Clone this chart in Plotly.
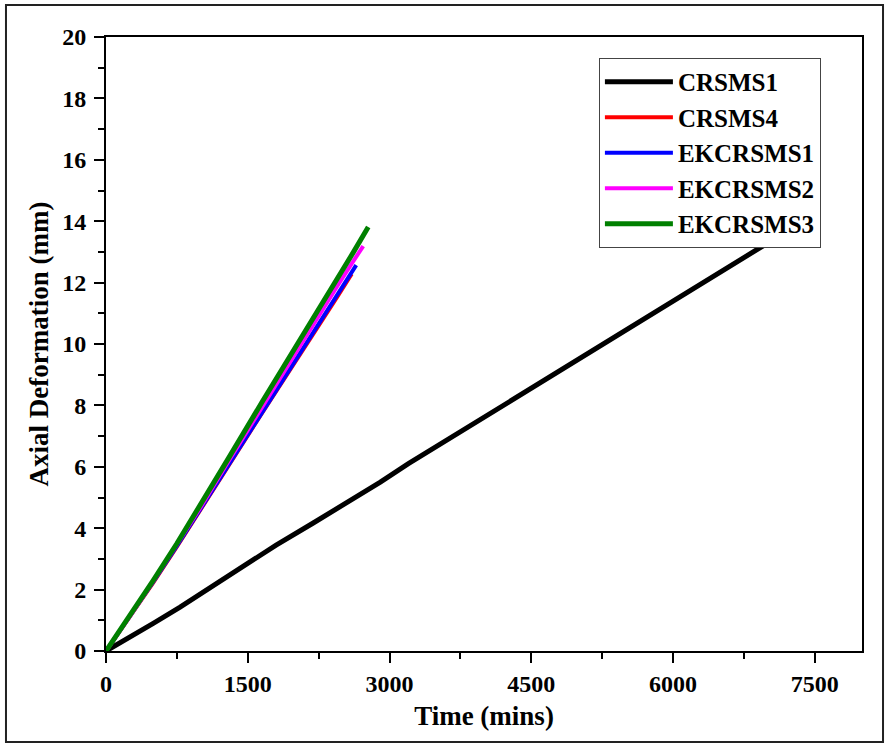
import plotly.graph_objects as go

# Axial deformation vs. time for each specimen
crsms1_t = [0, 250, 500, 784, 1000, 1250, 1525, 1800, 2193, 2500, 2903, 3200, 3500, 3800,
            4100, 4400, 4700, 5000, 5300, 5600, 5900, 6200, 6500, 6800, 7108, 7450]
crsms1_d = [0, 0.44, 0.9, 1.43, 1.86, 2.38, 2.93, 3.45, 4.17, 4.73, 5.5, 6.1, 6.67, 7.23,
            7.8, 8.37, 8.93, 9.49, 10.05, 10.62, 11.2, 11.8, 12.37, 12.93, 13.49, 14.1]

crsms4_t = [0, 250, 500, 750, 1000, 1300, 1650, 1950, 2250, 2450, 2600]
crsms4_d = [0, 1.09, 2.23, 3.4, 4.58, 6.05, 7.75, 9.15, 10.6, 11.55, 12.28]

ekcrsms1_t = [0, 250, 500, 750, 1000, 1300, 1650, 1950, 2250, 2450, 2648]
ekcrsms1_d = [0, 1.1, 2.25, 3.42, 4.62, 6.1, 7.8, 9.2, 10.65, 11.62, 12.57]

ekcrsms2_t = [0, 250, 500, 750, 1000, 1300, 1650, 1950, 2250, 2450, 2600, 2722]
ekcrsms2_d = [0, 1.11, 2.28, 3.46, 4.68, 6.2, 7.95, 9.42, 10.92, 11.9, 12.62, 13.19]

ekcrsms3_t = [0, 250, 500, 750, 1000, 1300, 1650, 1950, 2250, 2450, 2620, 2775]
ekcrsms3_d = [0, 1.12, 2.3, 3.5, 4.75, 6.3, 8.1, 9.6, 11.15, 12.17, 13.0, 13.81]

series = [
    ("CRSMS1", crsms1_t, crsms1_d, "black", 5),
    ("CRSMS4", crsms4_t, crsms4_d, "red", 4),
    ("EKCRSMS1", ekcrsms1_t, ekcrsms1_d, "blue", 4),
    ("EKCRSMS2", ekcrsms2_t, ekcrsms2_d, "magenta", 4),
    ("EKCRSMS3", ekcrsms3_t, ekcrsms3_d, "green", 5),
]

FONT = "Liberation Serif, Times New Roman, serif"

fig = go.Figure()
for name, t, d, color, width in series:
    fig.add_trace(go.Scatter(
        x=t, y=d, mode="lines", name=name,
        line=dict(color=color, width=width),
    ))

axis_common = dict(
    showline=True, linecolor="black", linewidth=2, mirror=True,
    ticks="outside", ticklen=10, tickwidth=2, tickcolor="black",
    showgrid=False, zeroline=False,
    tickfont=dict(family=FONT, size=24, color="black", weight="bold"),
)

fig.update_xaxes(
    range=[0, 8000], tick0=0, dtick=1500,
    minor=dict(ticks="outside", ticklen=6, tickwidth=2, tickcolor="black", dtick=750),
    title=dict(text="Time (mins)", font=dict(family=FONT, size=27, color="black", weight="bold"),
               standoff=10),
    **axis_common,
)
fig.update_yaxes(
    range=[0, 20], tick0=0, dtick=2,
    minor=dict(ticks="outside", ticklen=6, tickwidth=2, tickcolor="black", dtick=1),
    ticklabelstandoff=3,
    title=dict(text="Axial Deformation (mm)", font=dict(family=FONT, size=27, color="black", weight="bold"),
               standoff=6),
    **axis_common,
)

# outer frame around the whole figure
fig.add_shape(type="rect", xref="paper", yref="paper",
              x0=-0.1323, x1=1.0278, y0=-0.1482, y1=1.0521,
              line=dict(color="#222", width=2), fillcolor="rgba(0,0,0,0)", layer="below")

fig.update_layout(
    width=886, height=744,
    margin=dict(l=106, r=24, t=37, b=93),
    paper_bgcolor="white", plot_bgcolor="white",
    showlegend=True,
    legend=dict(
        x=0.652, y=0.966, xanchor="left", yanchor="top",
        bgcolor="white", bordercolor="#444", borderwidth=1,
        font=dict(family=FONT, size=25, color="black", weight="bold"),
        itemwidth=68, tracegroupgap=0,
    ),
)

fig.write_html("out.html")
